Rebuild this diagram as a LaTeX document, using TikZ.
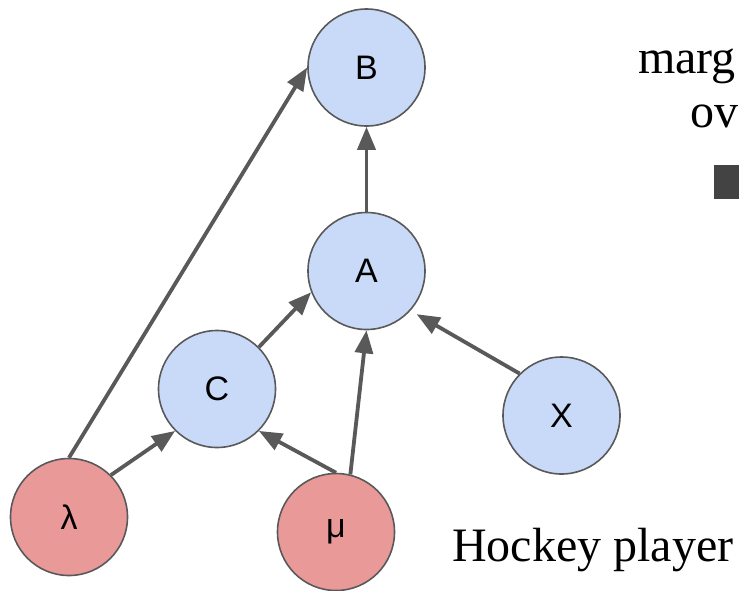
\documentclass[tikz,border=0pt]{standalone}
\usepackage{fontspec}
\usetikzlibrary{arrows.meta}
\newfontfamily\nodefont{Liberation Sans}
\newfontfamily\prosefont{Liberation Serif}
\definecolor{varblue}{HTML}{C9DAF8}
\definecolor{varred}{HTML}{EA9999}
\definecolor{edgegray}{HTML}{595959}
\definecolor{boxgray}{HTML}{434343}
\tikzset{
  var/.style={circle, draw=edgegray, line width=1.6pt, minimum size=117pt,
    inner sep=0pt, font=\nodefont\fontsize{34}{40}\selectfont},
  latent/.style={var, fill=varblue},
  param/.style={var, fill=varred},
  link/.style={draw=edgegray, line width=3.8pt,
    -{Triangle[length=23pt, width=18pt]}},
  prose/.style={anchor=base west, inner sep=0pt,
    font=\prosefont\fontsize{48}{58}\selectfont}
}
\begin{document}
\begin{tikzpicture}[x=1pt, y=-1pt]
  \useasboundingbox (0,0) rectangle (739,590);
  \clip (0,0) rectangle (739,590);

  % graph nodes
  \node[latent] (B)   at (366.5, 67.5) {B};
  \node[latent] (A)   at (366.5, 271)  {A};
  \node[latent] (C)   at (217, 389)    {C};
  \node[latent] (X)   at (561.5, 415.5) {X};
  \node[param]  (lam) at (69, 517)     {λ};
  \node[param]  (mu)  at (336, 532)    {μ};

  % dependencies
  \draw[link] (A.north) -- (B.south);
  \draw[link] (lam.north) -- (B.west);
  \draw[link] (lam.45) -- (C.225);
  \draw[link] (mu.north) -- (C.-45);
  \draw[link] (mu.76) -- (A.south);
  \draw[link] (C.45) -- (A.201);
  \draw[link, shorten >=7pt] (X.135) -- (A.-42);

  % surrounding text
  \node[prose] (t1) at (638, 73)  {marg};
  \node[prose] (t2) at (690, 127) {ove};
  \node[prose] (t3) at (452, 561) {Hockey player};
  \fill[boxgray] (714,165) rectangle (748,199);
\end{tikzpicture}
\end{document}
